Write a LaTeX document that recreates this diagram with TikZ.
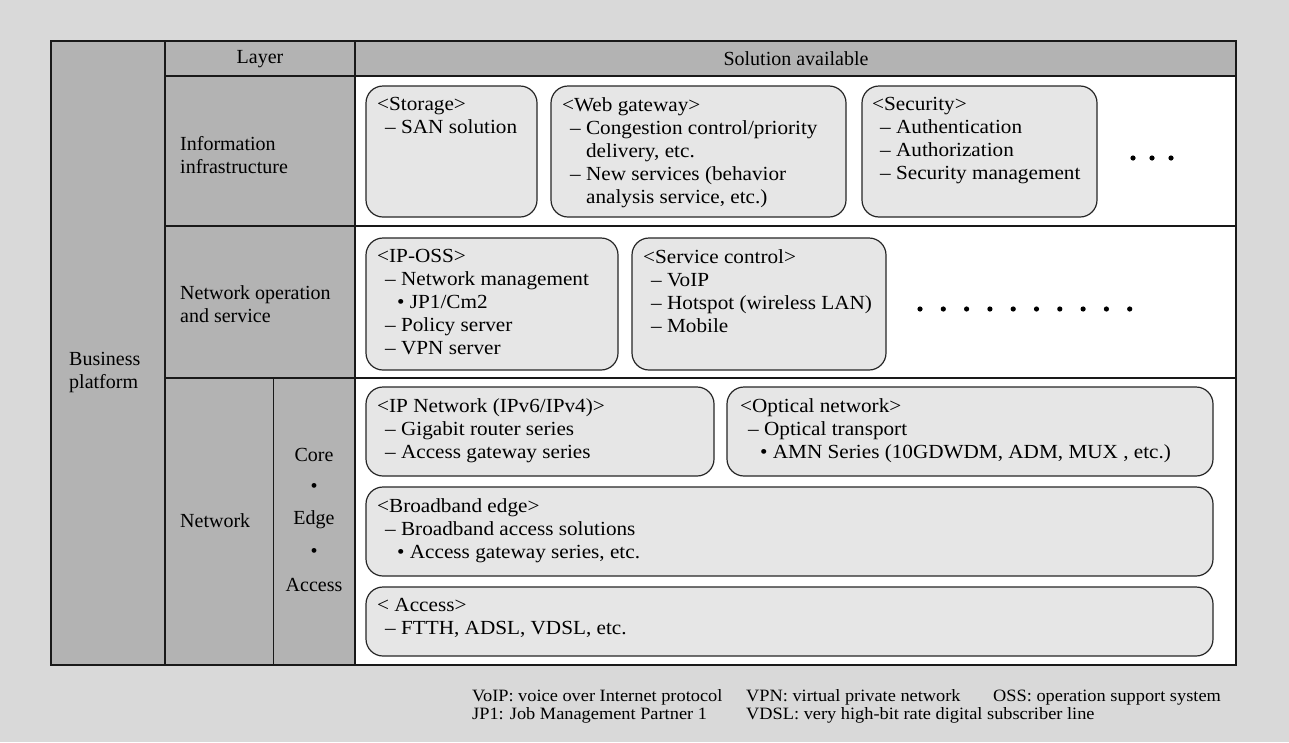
\documentclass[tikz,border=0pt]{standalone}
\usepackage{fontspec}
\setmainfont{Liberation Serif}
\newfontfamily\widefont{Liberation Serif}[FakeStretch=1.06]
\usetikzlibrary{positioning}

\definecolor{bggray}{HTML}{D9D9D9}
\definecolor{cellgray}{HTML}{B3B3B3}
\definecolor{boxgray}{HTML}{E6E6E6}

\tikzset{
	gridline/.style={line width=1.2pt, draw=black!90},
	solbox/.style={draw=black!85, line width=1.2pt, fill=boxgray, rounded corners=17pt},
	boxtext/.style={anchor=north west, align=left, inner sep=0pt, font=\widefont\fontsize{20}{23}\selectfont},
	celltext/.style={align=left, inner sep=0pt, font=\fontsize{20}{23}\selectfont},
	foottext/.style={anchor=base west, inner sep=0pt, font=\widefont\fontsize{17.3}{18}\selectfont},
}
\newcommand{\dashitem}{\hspace*{8pt}–\ }
\newcommand{\bulitem}{\hspace*{20pt}•\ }
\newcommand{\contline}{\hspace*{8pt}\phantom{–\ }}

\begin{document}
\begin{tikzpicture}[x=1pt,y=-1pt]
		%%%%% START %%%%%
		\fill[bggray] (0,0) rectangle (1289,742);
		
		% cells
		\fill[cellgray] (51,41) rectangle (355,665);
		\fill[cellgray] (355,41) rectangle (1236,76);
		\fill[white] (355,76) rectangle (1236,665);
		
		\draw[gridline] (165,41) -- (165,665);
		\draw[gridline] (355,41) -- (355,665);
		\draw[gridline] (273.5,378) -- (273.5,665);
		\draw[gridline] (165,76) -- (1236,76);
		\draw[gridline] (165,226) -- (1236,226);
		\draw[gridline] (165,378) -- (1236,378);
		\draw[gridline, line width=1.5pt] (51,41) rectangle (1236,665);
		
		% headings
		\node[celltext] (layer) at (260,59) {Layer};
		\node[celltext] (solution) at (796,59) {Solution available};
		\node[celltext, anchor=west] (business) at (69,372) {Business\\platform};
		\node[celltext, anchor=west] (info) at (180,155) {Information\\infrastructure};
		\node[celltext, anchor=west] (netop) at (180,304) {Network operation\\and service};
		\node[celltext, anchor=west] (network) at (180,521) {Network};
		\node[celltext] (core) at (314,455) {Core};
		\node[celltext] (dotone) at (314,488) {•};
		\node[celltext] (edge) at (314,520) {Edge};
		\node[celltext] (dottwo) at (314,553) {•};
		\node[celltext] (access) at (314,585) {Access};
		
		% information infrastructure
		\draw[solbox] (366,86) rectangle (537,217);
		\node[boxtext] (storage) at (377,97) {<Storage>\\\dashitem SAN solution};
		\draw[solbox] (551,86) rectangle (846,217);
		\node[boxtext] (webgw) at (562,97) {<Web gateway>\\\dashitem Congestion control/priority\\\contline delivery, etc.\\\dashitem New services (behavior\\\contline analysis service, etc.)};
		\draw[solbox] (862,86) rectangle (1097,217);
		\node[boxtext] (security) at (872,97) {<Security>\\\dashitem Authentication\\\dashitem Authorization\\\dashitem Security management};
		\foreach \x in {1133,1152,1171}
			\fill (\x,158) circle (2.6);
		
		% network operation and service
		\draw[solbox] (366,238) rectangle (618,370);
		\node[boxtext] (iposs) at (377,249) {<IP-OSS>\\\dashitem Network management\\\bulitem JP1/Cm2\\\dashitem Policy server\\\dashitem VPN server};
		\draw[solbox] (632,238) rectangle (886,370);
		\node[boxtext] (svcctrl) at (643,249) {<Service control>\\\dashitem VoIP\\\dashitem Hotspot (wireless LAN)\\\dashitem Mobile};
		\foreach \i in {0,...,9}
			\fill ({920+\i*23.3},309) circle (2.6);
		
		% network
		\draw[solbox] (366,387) rectangle (714,476);
		\node[boxtext] (ipnet) at (377,398) {<IP Network (IPv6/IPv4)>\\\dashitem Gigabit router series\\\dashitem Access gateway series};
		\draw[solbox] (727,387) rectangle (1213,476);
		\node[boxtext] (optical) at (740,398) {<Optical network>\\\dashitem Optical transport\\\bulitem AMN Series (10GDWDM, ADM, MUX , etc.)};
		\draw[solbox] (366,487) rectangle (1213,576);
		\node[boxtext] (bbedge) at (377,498) {<Broadband edge>\\\dashitem Broadband access solutions\\\bulitem Access gateway series, etc.};
		\draw[solbox] (366,587) rectangle (1213,656);
		\node[boxtext] (accbox) at (377,598) {< Access>\\\dashitem FTTH, ADSL, VDSL, etc.};
		
		% abbreviations
		\node[foottext] (voip) at (472,701) {VoIP: voice over Internet protocol};
		\node[foottext] (vpn) at (746,701) {VPN: virtual private network};
		\node[foottext] (oss) at (993,701) {OSS: operation support system};
		\node[foottext] (jpone) at (472,719) {JP1: Job Management Partner 1};
		\node[foottext] (vdsl) at (746,719) {VDSL: very high-bit rate digital subscriber line};
		%%%%% END %%%%%
\end{tikzpicture}
\end{document}
